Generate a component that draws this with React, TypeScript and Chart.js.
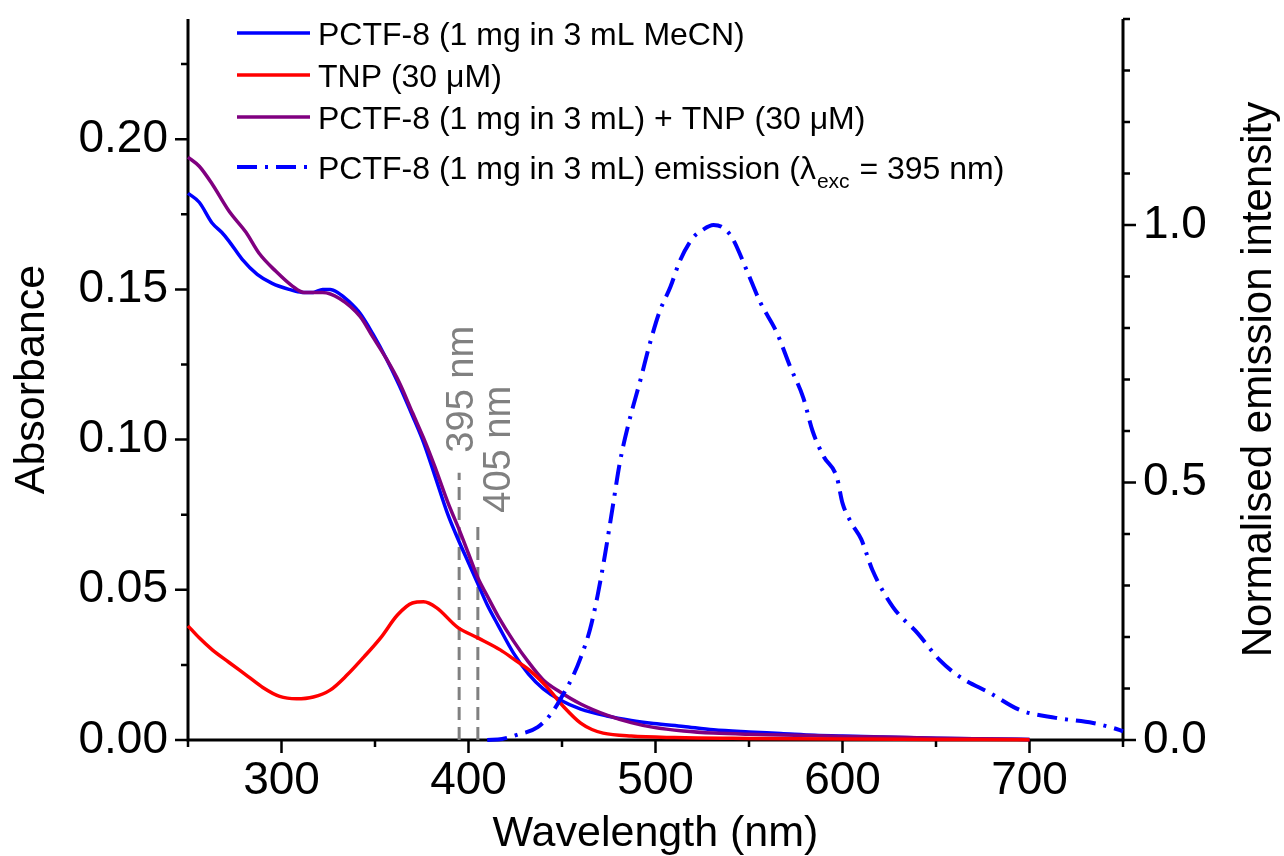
import React, { useEffect, useRef } from "react";
import { Chart, registerables } from "chart.js";

Chart.register(...registerables);

const FONT = '"Liberation Sans", Arial, Helvetica, sans-serif';

// ---- Data ----
const blueWavelengths = [250, 256, 263, 268, 272, 279, 287, 295, 304, 311, 317, 322, 326, 330, 336, 342, 349, 356, 363, 370, 376, 382, 389, 395, 400, 405, 410, 416, 424, 432, 440, 449, 460, 474, 487, 499, 515, 531, 550, 567, 585, 600, 620, 650, 680, 700];
const blueAbsorbance = [0.182, 0.179, 0.172, 0.169, 0.166, 0.160, 0.155, 0.152, 0.150, 0.149, 0.149, 0.150, 0.150, 0.149, 0.146, 0.142, 0.135, 0.127, 0.118, 0.108, 0.099, 0.088, 0.075, 0.066, 0.059, 0.052, 0.045, 0.038, 0.029, 0.022, 0.017, 0.0133, 0.0103, 0.0080, 0.0065, 0.0055, 0.0045, 0.0034, 0.0027, 0.0022, 0.0016, 0.0013, 0.0010, 0.0006, 0.0003, 0.0002];

const redWavelengths = [250, 256, 263, 272, 282, 290, 299, 308, 317, 326, 335, 344, 353, 362, 370, 376, 383, 394, 405, 417, 424, 433, 442, 451, 460, 466, 472, 487, 510, 550, 600, 650, 700];
const redAbsorbance = [0.038, 0.034, 0.030, 0.0258, 0.0212, 0.0175, 0.0145, 0.0137, 0.0143, 0.0166, 0.0216, 0.0276, 0.034, 0.0416, 0.0456, 0.046, 0.044, 0.0376, 0.034, 0.030, 0.027, 0.023, 0.0176, 0.011, 0.0056, 0.0035, 0.0023, 0.0013, 0.0008, 0.0005, 0.0003, 0.0002, 0.0001];

const purpleWavelengths = [250, 256, 263, 272, 281, 288, 297, 306, 312, 317, 322, 331, 342, 349, 356, 363, 370, 377, 382, 389, 395, 400, 405, 410, 416, 424, 432, 440, 449, 460, 474, 487, 499, 515, 531, 550, 567, 600, 620, 650, 680, 700];
const purpleAbsorbance = [0.194, 0.191, 0.185, 0.176, 0.169, 0.162, 0.156, 0.151, 0.149, 0.149, 0.149, 0.147, 0.141, 0.134, 0.127, 0.119, 0.109, 0.099, 0.091, 0.079, 0.070, 0.062, 0.054, 0.048, 0.041, 0.033, 0.026, 0.020, 0.016, 0.012, 0.0083, 0.0058, 0.0042, 0.0030, 0.0023, 0.0019, 0.0017, 0.0012, 0.0010, 0.0006, 0.0003, 0.0002];

const emissionWavelengths = [410, 418, 426, 437, 445, 451, 456, 460, 465, 469, 473, 477, 481, 486, 492, 497, 502, 508, 513, 520, 525, 531, 536, 541, 549, 556, 565, 572, 579, 584, 590, 597, 600, 605, 610, 616, 627, 640, 652, 663, 679, 695, 714, 734, 745, 750];
const emissionIntensity = [0.0, 0.002, 0.01, 0.025, 0.055, 0.091, 0.125, 0.160, 0.215, 0.280, 0.36, 0.45, 0.54, 0.62, 0.70, 0.77, 0.83, 0.88, 0.93, 0.975, 0.99, 1.0, 0.995, 0.975, 0.91, 0.85, 0.79, 0.725, 0.665, 0.60, 0.55, 0.51, 0.46, 0.42, 0.39, 0.33, 0.258, 0.208, 0.155, 0.122, 0.091, 0.058, 0.043, 0.033, 0.023, 0.017];

const seriesLabels = [
  "PCTF-8 (1 mg in 3 mL MeCN)",
  "TNP (30 \u03bcM)",
  "PCTF-8 (1 mg in 3 mL) + TNP (30 \u03bcM)",
  "PCTF-8 (1 mg in 3 mL) emission (\u03bb_{exc} = 395 nm)",
];

const xMajorTicks = [300, 400, 500, 600, 700];
const xMinorTicks = [250, 350, 450, 550, 650, 750];
const leftMajorTicks = [0, 0.05, 0.1, 0.15, 0.2];
const leftMinorTicks = [0.025, 0.075, 0.125, 0.175, 0.225];
const rightMajorTicks = [0, 0.5, 1.0];
const rightMinorTicks = [0.1, 0.2, 0.3, 0.4, 0.6, 0.7, 0.8, 0.9, 1.1, 1.2, 1.3, 1.4];

const markerWavelengths = [395, 405];
const markerTops = [0.089, 0.071];
const markerLabels = ["395 nm", "405 nm"];

const xTitle = "Wavelength (nm)";
const leftTitle = "Absorbance";
const rightTitle = "Normalised emission intensity";

const near = (arr: number[], v: number) => arr.some((a) => Math.abs(a - v) < 1e-9);

const axesPlugin = {
  id: "axesTicks",
  beforeDatasetsDraw(chart: any) {
    const { ctx, chartArea: a, scales } = chart;
    ctx.save();
    ctx.strokeStyle = "#000";
    ctx.lineCap = "butt";
    ctx.lineWidth = 3;
    ctx.beginPath();
    ctx.moveTo(a.left, a.top);
    ctx.lineTo(a.left, a.bottom + 1.5);
    ctx.moveTo(a.left - 1.5, a.bottom);
    ctx.lineTo(a.right + 1.5, a.bottom);
    ctx.moveTo(a.right, a.top);
    ctx.lineTo(a.right, a.bottom + 1.5);
    ctx.stroke();
    ctx.lineWidth = 2.5;
    ctx.beginPath();
    const xs = scales.x;
    xMajorTicks.forEach((v) => {
      const p = xs.getPixelForValue(v);
      ctx.moveTo(p, a.bottom);
      ctx.lineTo(p, a.bottom + 13);
    });
    xMinorTicks.forEach((v) => {
      const p = xs.getPixelForValue(v);
      ctx.moveTo(p, a.bottom);
      ctx.lineTo(p, a.bottom + 7);
    });
    const ys = scales.y;
    leftMajorTicks.forEach((v) => {
      const p = ys.getPixelForValue(v);
      ctx.moveTo(a.left, p);
      ctx.lineTo(a.left - 13, p);
    });
    leftMinorTicks.forEach((v) => {
      const p = ys.getPixelForValue(v);
      ctx.moveTo(a.left, p);
      ctx.lineTo(a.left - 7, p);
    });
    const y2 = scales.y2;
    rightMajorTicks.forEach((v) => {
      const p = y2.getPixelForValue(v);
      ctx.moveTo(a.right, p);
      ctx.lineTo(a.right + 13, p);
    });
    rightMinorTicks.forEach((v) => {
      const p = y2.getPixelForValue(v);
      ctx.moveTo(a.right, p);
      ctx.lineTo(a.right + 7, p);
    });
    ctx.stroke();

    // marker lines
    ctx.strokeStyle = "#808080";
    ctx.lineWidth = 3;
    ctx.setLineDash([13, 7]);
    markerWavelengths.forEach((w, i) => {
      const px = xs.getPixelForValue(w);
      ctx.beginPath();
      ctx.moveTo(px, ys.getPixelForValue(0));
      ctx.lineTo(px, ys.getPixelForValue(markerTops[i]));
      ctx.stroke();
    });
    ctx.setLineDash([]);
    const labelDx = [0, 19];
    const labelGap = [20, 14];
    const size = 38;
    ctx.fillStyle = "#808080";
    ctx.font = `${size}px ${FONT}`;
    ctx.textAlign = "left";
    ctx.textBaseline = "alphabetic";
    markerWavelengths.forEach((w, i) => {
      const cx = xs.getPixelForValue(w) + labelDx[i];
      const top = ys.getPixelForValue(markerTops[i]) - labelGap[i];
      ctx.save();
      ctx.translate(cx + 0.358 * size, top);
      ctx.rotate(-Math.PI / 2);
      ctx.fillText(markerLabels[i], 0, 0);
      ctx.restore();
    });
    ctx.restore();
  },
  afterDraw(chart: any) {
    const { ctx, chartArea: a } = chart;
    ctx.save();
    // right axis title
    const size = 42;
    ctx.font = `${size}px ${FONT}`;
    ctx.fillStyle = "#000";
    ctx.textAlign = "center";
    ctx.textBaseline = "alphabetic";
    ctx.translate(1256 + 0.358 * size, (a.top + a.bottom) / 2);
    ctx.rotate(-Math.PI / 2);
    ctx.fillText(rightTitle, 0, 0);
    ctx.restore();

    // legend
    ctx.save();
    const legendOrder = [0, 1, 2, 3];
    const rowYs = [a.top + 14, a.top + 56, a.top + 98, a.top + 148];
    const x0 = a.left + 49;
    const fs = 32;
    legendOrder.forEach((di, r) => {
      const ds = chart.data.datasets[di];
      const y = rowYs[r];
      ctx.strokeStyle = ds.borderColor;
      ctx.lineWidth = ds.borderWidth;
      ctx.setLineDash(ds.borderDash || []);
      ctx.beginPath();
      ctx.moveTo(x0, y);
      ctx.lineTo(x0 + 73, y);
      ctx.stroke();
      ctx.setLineDash([]);
      ctx.fillStyle = "#000";
      ctx.textAlign = "left";
      ctx.textBaseline = "alphabetic";
      const base = y + 11.5;
      let tx = x0 + 81;
      const m = /^(.*)_\{(.*?)\}(.*)$/.exec(ds.label);
      if (m) {
        ctx.font = `${fs}px ${FONT}`;
        ctx.fillText(m[1], tx, base);
        tx += ctx.measureText(m[1]).width;
        ctx.font = `${Math.round(fs * 0.66)}px ${FONT}`;
        ctx.fillText(m[2], tx + 1, base + 9);
        tx += ctx.measureText(m[2]).width + 2;
        ctx.font = `${fs}px ${FONT}`;
        ctx.fillText(m[3], tx, base);
      } else {
        ctx.font = `${fs}px ${FONT}`;
        ctx.fillText(ds.label, tx, base);
      }
    });
    ctx.restore();
  },
};

const pts = (xs: number[], ys: number[]) => xs.map((x, i) => ({ x, y: ys[i] }));

export default function App() {
  const ref = useRef<HTMLCanvasElement>(null);
  useEffect(() => {
    const canvas = ref.current;
    if (!canvas) return;
    const chart = new Chart(canvas, {
      type: "line",
      data: {
        datasets: [
          {
            label: seriesLabels[0],
            data: pts(blueWavelengths, blueAbsorbance),
            borderColor: "#0000FF",
            borderWidth: 3.5,
            pointRadius: 0,
            yAxisID: "y",
            cubicInterpolationMode: "monotone",
            clip: false,
            order: 3,
          },
          {
            label: seriesLabels[1],
            data: pts(redWavelengths, redAbsorbance),
            borderColor: "#FF0000",
            borderWidth: 3.5,
            pointRadius: 0,
            yAxisID: "y",
            cubicInterpolationMode: "monotone",
            clip: false,
            order: 1,
          },
          {
            label: seriesLabels[2],
            data: pts(purpleWavelengths, purpleAbsorbance),
            borderColor: "#800080",
            borderWidth: 3.5,
            pointRadius: 0,
            yAxisID: "y",
            cubicInterpolationMode: "monotone",
            clip: false,
            order: 2,
          },
          {
            label: seriesLabels[3],
            data: pts(emissionWavelengths, emissionIntensity),
            borderColor: "#0000FF",
            borderWidth: 4,
            borderDash: [20, 8, 3, 8],
            pointRadius: 0,
            yAxisID: "y2",
            cubicInterpolationMode: "monotone",
            clip: false,
            order: 0,
          },
        ] as any,
      },
      options: {
        responsive: false,
        animation: false,
        events: [],
        layout: { padding: { top: 19, left: 0, right: 0, bottom: 0 } },
        plugins: { legend: { display: false }, tooltip: { enabled: false }, title: { display: false } },
        scales: {
          x: {
            type: "linear",
            min: 250,
            max: 750,
            grid: { display: false, drawTicks: false },
            border: { display: false },
            afterBuildTicks: (s: any) => {
              s.ticks = [...xMinorTicks, ...xMajorTicks].sort((p, q) => p - q).map((v) => ({ value: v }));
            },
            afterFit: (s: any) => {
              s.height = 116;
              s.paddingLeft = 0;
              s.paddingRight = 0;
            },
            ticks: {
              autoSkip: false,
              maxRotation: 0,
              padding: 14,
              color: "#000",
              font: { family: FONT, size: 46 },
              callback: (v: any) => (near(xMajorTicks, Number(v)) ? String(v) : ""),
            },
            title: {
              display: true,
              text: xTitle,
              color: "#000",
              font: { family: FONT, size: 43, lineHeight: 1 },
              padding: { top: 0, bottom: 0 },
            },
          },
          y: {
            type: "linear",
            position: "left",
            min: 0,
            max: 0.24,
            grid: { display: false, drawTicks: false },
            border: { display: false },
            afterBuildTicks: (s: any) => {
              s.ticks = [...leftMajorTicks, ...leftMinorTicks].sort((p, q) => p - q).map((v) => ({ value: v }));
            },
            afterFit: (s: any) => {
              s.width = 188;
              s.paddingTop = 0;
              s.paddingBottom = 0;
            },
            ticks: {
              autoSkip: false,
              padding: 20,
              color: "#000",
              font: { family: FONT, size: 46 },
              callback: (v: any) => (near(leftMajorTicks, Number(v)) ? Number(v).toFixed(2) : ""),
            },
            title: {
              display: true,
              text: leftTitle,
              color: "#000",
              font: { family: FONT, size: 43, lineHeight: 1 },
              padding: { top: 11, bottom: 0 },
            },
          },
          y2: {
            type: "linear",
            position: "right",
            min: 0,
            max: 1.4,
            grid: { display: false, drawTicks: false },
            border: { display: false },
            afterBuildTicks: (s: any) => {
              s.ticks = [...rightMajorTicks, ...rightMinorTicks].sort((p, q) => p - q).map((v) => ({ value: v }));
            },
            afterFit: (s: any) => {
              s.width = 161;
              s.paddingTop = 0;
              s.paddingBottom = 0;
            },
            ticks: {
              autoSkip: false,
              padding: 20,
              color: "#000",
              font: { family: FONT, size: 46 },
              callback: (v: any) => (near(rightMajorTicks, Number(v)) ? Number(v).toFixed(1) : ""),
            },
            title: { display: false },
          },
        },
      } as any,
      plugins: [axesPlugin],
    });
    return () => chart.destroy();
  }, []);
  return (
    <div style={{ position: "fixed", left: 0, top: 0, width: 1284, height: 856, background: "#fff" }}>
      <canvas ref={ref} width={1284} height={856} style={{ display: "block" }} />
    </div>
  );
}
